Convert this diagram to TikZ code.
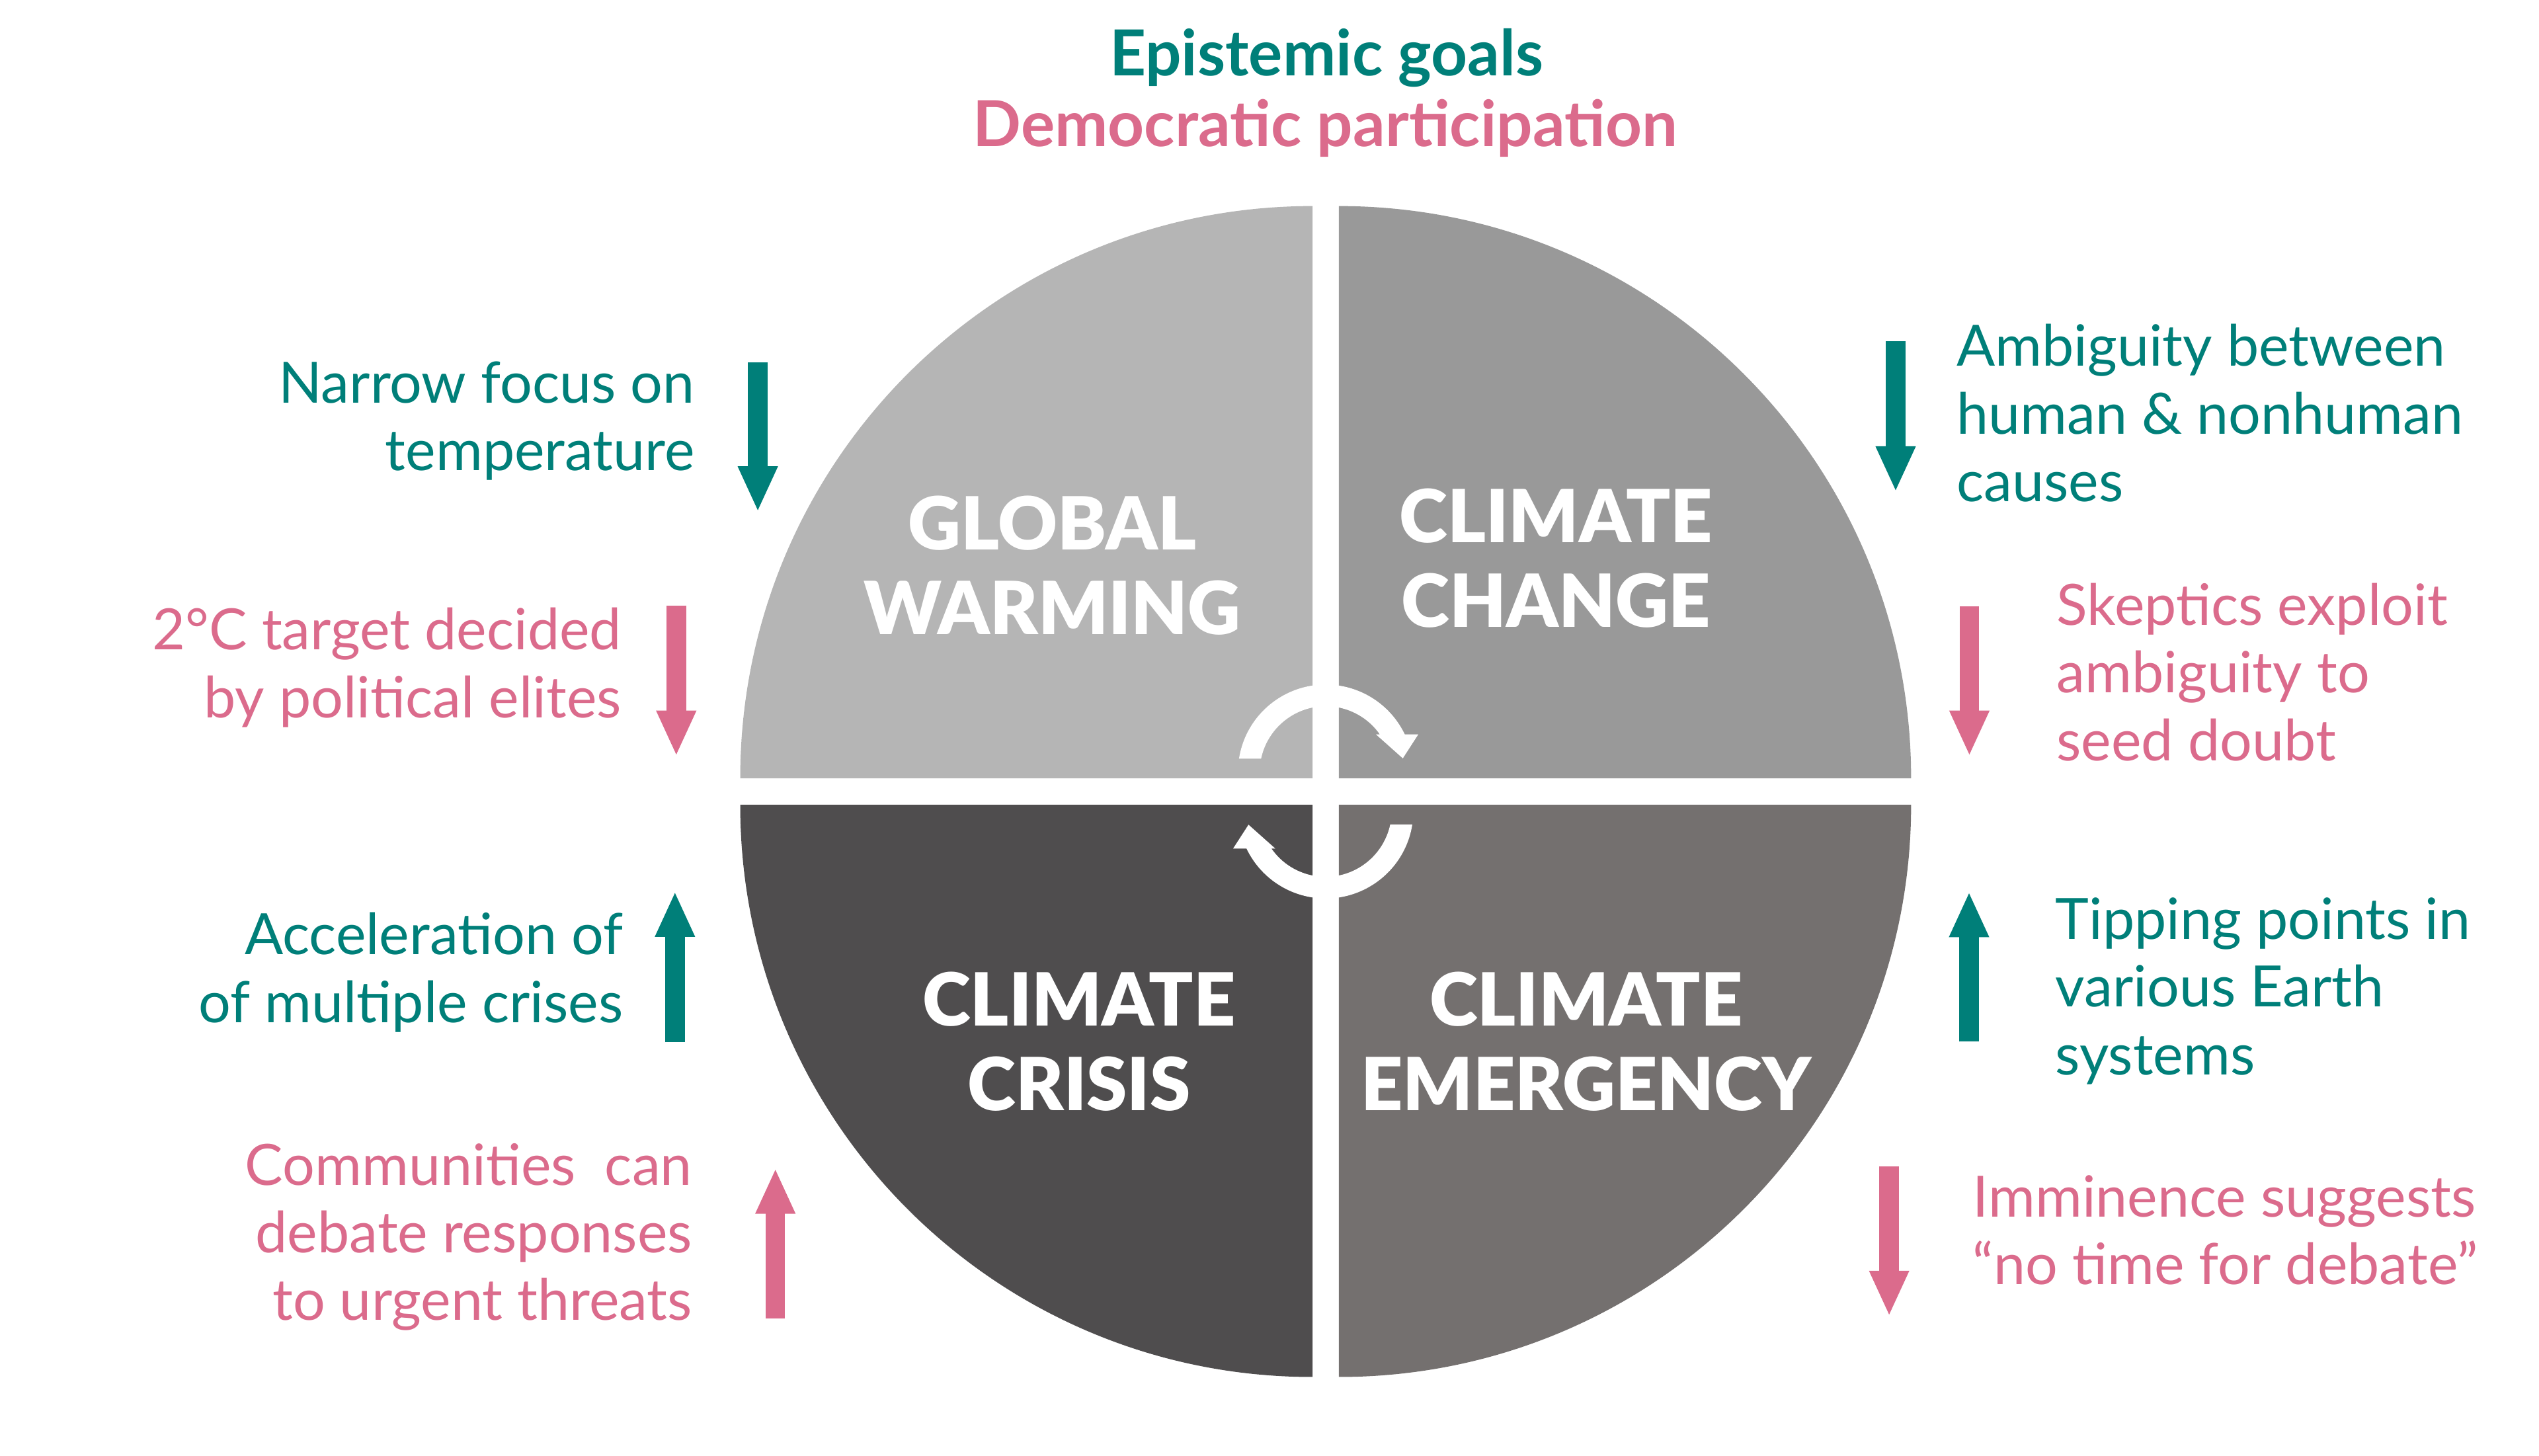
\documentclass[tikz,border=0pt]{standalone}
\usepackage{fontspec}
\setmainfont{Lato}
\newfontfamily\heavyfont{Lato Black}
\usetikzlibrary{arrows.meta}
\definecolor{tealc}{HTML}{007F79}
\definecolor{pinkc}{HTML}{DB6B8C}
\definecolor{qtl}{HTML}{B5B5B5}
\definecolor{qtr}{HTML}{999999}
\definecolor{qbl}{HTML}{4F4D4E}
\definecolor{qbr}{HTML}{74706F}
\tikzset{
  sidetext/.style={inner sep=0pt, font=\fontsize{35}{41.5}\selectfont},
  lefttext/.style={sidetext, anchor=base east, align=right},
  righttext/.style={sidetext, anchor=base west, align=left},
  titletext/.style={inner sep=0pt, anchor=base, font=\bfseries\fontsize{39}{43}\selectfont},
  quadlabel/.style={inner sep=0pt, anchor=base, align=center, text=white,
    font=\heavyfont\fontsize{45}{52}\selectfont},
  sidearrow/.style={line width=12pt, -{Triangle[width=22.5pt,length=28pt]}},
}
\begin{document}
\begin{tikzpicture}[x=1pt,y=-1pt]
\useasboundingbox (0,0) rectangle (1560,894.2);
% quadrants
\fill[qtl] (806.4,478.2) -- ++(180:351.6) arc[start angle=180,end angle=270,radius=351.6] -- cycle;
\fill[qtr] (822.6,478.2) -- ++(270:351.6) arc[start angle=270,end angle=360,radius=351.6] -- cycle;
\fill[qbr] (822.6,494.4) -- ++(0:351.6) arc[start angle=0,end angle=90,radius=351.6] -- cycle;
\fill[qbl] (806.4,494.4) -- ++(90:351.6) arc[start angle=90,end angle=180,radius=351.6] -- cycle;
% cycle arrows
\def\cyclearrow{(814.5,474.5) ++(189:53.9) arc[start angle=189,end angle=334.4,radius=53.9]
  -- (871.4,451.2) -- (861.9,465.9) -- (845.4,451.2) -- (847.8,451.2)
  arc[start angle=325,end angle=191.9,radius=40.6] -- cycle}
\fill[white] \cyclearrow;
\fill[white, rotate around={180:(814.5,486.3)}] \cyclearrow;
% titles
\node[titletext, text=tealc] (epi) at (815,46.7) {Epistemic goals};
\node[titletext, text=pinkc] (dem) at (814.2,89.8) {Democratic participation};
% quadrant labels (anchored at the baseline of the last line)
\node[quadlabel] (gw) at (646.5,389.6) {GLOBAL\\WARMING};
\node[quadlabel] (cc) at (956,385.4) {CLIMATE\\CHANGE};
\node[quadlabel] (ccr) at (663,682.2) {CLIMATE\\CRISIS};
\node[quadlabel] (ce) at (974.5,682.2) {CLIMATE\\EMERGENCY};
% left side texts
\node[lefttext, text=tealc] (t1) at (427,289.2) {Narrow focus on\\temperature};
\node[lefttext, text=pinkc] (p1) at (382,440.8) {2°C target decided\\by political elites};
\node[lefttext, text=tealc] (t2) at (383,628.1) {Acceleration of\\of multiple crises};
\node[lefttext, text=pinkc] (p2) at (425.5,811) {Communities\ \ can\\debate responses\\to urgent threats};
% right side texts
\node[righttext, text=tealc] (t3) at (1202,308) {Ambiguity between\\human \& nonhuman\\causes};
\node[righttext, text=pinkc] (p3) at (1263.5,467.2) {Skeptics exploit\\ambiguity to\\seed doubt};
\node[righttext, text=tealc] (t4) at (1262.7,660.2) {Tipping points in\\various Earth\\systems};
\node[righttext, text=pinkc] (p4) at (1212,789.3) {Imminence suggests\\“no time for debate”};
% side arrows
\draw[sidearrow, tealc] (465.6,222.7) -- (465.6,314.5);
\draw[sidearrow, pinkc] (415.5,372) -- (415.5,464.6);
\draw[sidearrow, tealc] (414.7,640.3) -- (414.7,547.6);
\draw[sidearrow, pinkc] (476.4,809.9) -- (476.4,717.7);
\draw[sidearrow, tealc] (1164.7,209.7) -- (1164.7,302.2);
\draw[sidearrow, pinkc] (1210,372.4) -- (1210,464.6);
\draw[sidearrow, tealc] (1209.8,640) -- (1209.8,547.8);
\draw[sidearrow, pinkc] (1160.7,716.6) -- (1160.7,808.7);
\end{tikzpicture}
\end{document}
